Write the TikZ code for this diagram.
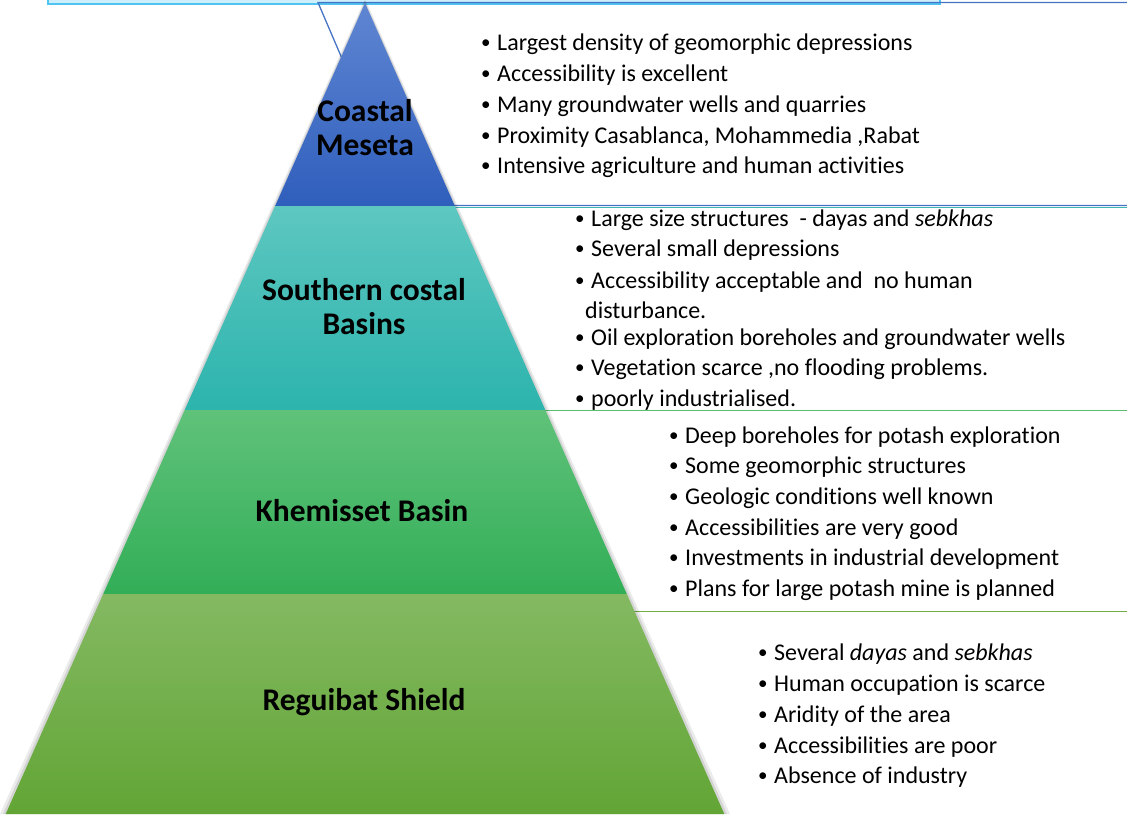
\documentclass[tikz,border=0pt]{standalone}
\usepackage{fontspec}
\setmainfont{Carlito}[Ligatures=NoCommon]
\definecolor{cyanline}{HTML}{4FC4F0}
\definecolor{cyanfill}{HTML}{CDEFFB}
\definecolor{blueline}{HTML}{4472C4}
\definecolor{tealline}{HTML}{3FB8B1}
\definecolor{greenline}{HTML}{5CBF6E}
\definecolor{lgreenline}{HTML}{70AD47}
\definecolor{blueT}{HTML}{5F86D2}
\definecolor{blueB}{HTML}{2F5EBC}
\definecolor{tealT}{HTML}{5DC7C0}
\definecolor{tealB}{HTML}{2CB4AD}
\definecolor{greenT}{HTML}{60C27A}
\definecolor{greenB}{HTML}{32AE57}
\definecolor{lgreenT}{HTML}{84B962}
\definecolor{lgreenB}{HTML}{62A535}
\begin{document}
\begin{tikzpicture}[x=1pt,y=-1pt,
  tier/.style={shading=axis, draw=none},
  tierlabel/.style={font=\fontsize{31.5}{34}\selectfont\bfseries, align=center, text=black, inner sep=0pt},
  bul/.style={anchor=base west, inner sep=0pt, font=\fontsize{24}{28}\selectfont, text=black},
  boxline/.style={line width=1.3pt}
]
\useasboundingbox (0,0) rectangle (1127,814);
% partial box at top
\draw[draw=cyanline, fill=cyanfill, line width=2pt] (48,-10) rectangle (940,4);
% text box outlines (behind the pyramid)
\draw[boxline, draw=blueline] (318,2.5) -- (1140,2.5) -- (1140,205.5) -- (405,205.5) -- cycle;
\draw[boxline, draw=tealline] (400,207.5) -- (1140,207.5);
\draw[boxline, draw=greenline] (500,410.5) -- (1140,410.5);
\draw[boxline, draw=lgreenline] (600,611.5) -- (1140,611.5);
% soft shadow
\fill[black, opacity=0.10] (365,1) -- (727,814) -- (3,814) -- cycle;
\fill[black, opacity=0.08] (365,-1) -- (730,814) -- (0,814) -- cycle;
% tiers
\path[tier, top color=blueT, bottom color=blueB] (365,3) -- (454.9,206) -- (275.1,206) -- cycle;
\path[tier, top color=tealT, bottom color=tealB] (275.1,206) -- (454.9,206) -- (545.3,410) -- (184.7,410) -- cycle;
\path[tier, top color=greenT, bottom color=greenB] (184.7,410) -- (545.3,410) -- (626.8,594) -- (103.2,594) -- cycle;
\path[tier, top color=lgreenT, bottom color=lgreenB] (103.2,594) -- (626.8,594) -- (724.3,814) -- (5.7,814) -- cycle;
% tier labels
\node[tierlabel] (cm) at (365,128) {Coastal\\Meseta};
\node[tierlabel] (scb) at (364,307) {Southern costal\\Basins};
\node[tierlabel] (kb) at (362,511) {Khemisset Basin};
\node[tierlabel] (rs) at (364,702) {Reguibat Shield};
% box 1
\newcommand{\bt}{\makebox[17pt][l]{\hspace{1pt}\raisebox{1.2pt}{\fontsize{19}{20}\selectfont•}}}
\node[bul] (a1) at (480,50) {\bt Largest density of geomorphic depressions};
\node[bul] (a2) at (480,81) {\bt Accessibility is excellent};
\node[bul] (a3) at (480,112) {\bt Many groundwater wells and quarries};
\node[bul] (a4) at (480,143) {\bt Proximity Casablanca, Mohammedia ,Rabat};
\node[bul] (a5) at (480,173) {\bt Intensive agriculture and human activities};
% box 2
\node[bul] (b1) at (574,226) {\bt Large size structures\ \ - dayas and \textit{sebkhas}};
\node[bul] (b2) at (574,256) {\bt Several small depressions};
\node[bul] (b3) at (574,288) {\bt Accessibility acceptable and\ \ no human};
\node[bul] (b3b) at (585,318) {disturbance.};
\node[bul] (b4) at (574,345) {\bt Oil exploration boreholes and groundwater wells};
\node[bul] (b5) at (574,375) {\bt Vegetation scarce ,no flooding problems.};
\node[bul] (b6) at (574,406) {\bt poorly industrialised.};
% box 3
\node[bul] (c1) at (668,443) {\bt Deep boreholes for potash exploration};
\node[bul] (c2) at (668,473) {\bt Some geomorphic structures};
\node[bul] (c3) at (668,504) {\bt Geologic conditions well known};
\node[bul] (c4) at (668,535) {\bt Accessibilities are very good};
\node[bul] (c5) at (668,565) {\bt Investments in industrial development};
\node[bul] (c6) at (668,596) {\bt Plans for large potash mine is planned};
% box 4
\node[bul] (d1) at (757,660) {\bt Several \textit{dayas} and \textit{sebkhas}};
\node[bul] (d2) at (757,691) {\bt Human occupation is scarce};
\node[bul] (d3) at (757,722) {\bt Aridity of the area};
\node[bul] (d4) at (757,753) {\bt Accessibilities are poor};
\node[bul] (d5) at (757,783) {\bt Absence of industry};
\end{tikzpicture}
\end{document}
